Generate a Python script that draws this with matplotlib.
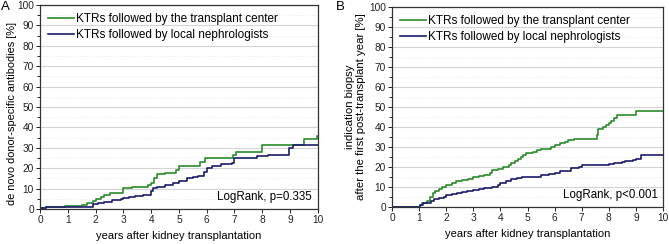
import matplotlib
matplotlib.use('Agg')
import matplotlib.pyplot as plt
from matplotlib.ticker import MultipleLocator

plt.rcParams['font.family'] = ['Liberation Sans', 'DejaVu Sans']

# panel A - de novo DSA
a_tc_x = [0, 0.2, 0.9, 1.5, 1.7, 1.9, 2.0, 2.2, 2.3, 2.5, 3.0, 3.3, 3.9, 4.0, 4.1, 4.2, 4.5, 4.9, 5.0,
          5.75, 5.95, 6.95, 7.05, 8.0, 9.5, 9.97, 10]
a_tc_y = [0.5, 1.0, 1.5, 2.0, 3.0, 4.0, 5.0, 6.0, 7.0, 8.0, 10.5, 11.0, 12.0, 13.0, 15.0, 17.0, 17.5, 19.0, 21.0,
          23.0, 25.0, 26.5, 28.0, 31.5, 34.5, 36.0, 36.0]
a_ln_x = [0, 0.2, 1.9, 2.1, 2.3, 2.6, 2.9, 3.0, 3.2, 3.4, 3.7, 4.0, 4.05, 4.2, 4.5, 4.8, 5.0, 5.3, 5.5,
          5.7, 5.9, 6.0, 6.2, 6.5, 6.9, 7.0, 7.8, 8.2, 8.95, 9.1, 10]
a_ln_y = [0.3, 0.8, 2.5, 3.0, 3.5, 4.5, 5.0, 5.5, 6.0, 6.5, 7.0, 9.0, 10.5, 11.0, 12.0, 13.0, 14.0, 15.0, 15.5,
          16.0, 18.0, 20.0, 21.0, 22.0, 22.5, 25.0, 26.0, 26.5, 30.0, 31.5, 31.5]

# panel B - indication biopsy after first year
b_tc_x = [0, 1.0, 1.05, 1.1, 1.3, 1.4, 1.5, 1.6, 1.75, 1.85, 2.0, 2.2, 2.35, 2.6, 2.8, 3.0, 3.2, 3.4, 3.6,
          3.7, 3.9, 4.1, 4.3, 4.4, 4.55, 4.65, 4.75, 4.85, 4.95, 5.2, 5.35, 5.5, 5.85, 6.0, 6.2, 6.4, 6.5,
          6.7, 7.55, 7.6, 7.8, 7.9, 8.0, 8.1, 8.2, 8.3, 9.0, 10]
b_tc_y = [0, 0, 1, 2, 3, 5, 7, 8, 9, 10, 11, 12, 13, 13.5, 14, 15, 15.5, 16, 17,
          18.5, 19, 20, 21, 22, 23, 24, 25, 26, 27, 27.5, 28.5, 29, 30, 31, 32, 32.5, 33.5,
          34, 36, 39, 40, 41, 42, 43, 44.5, 46, 48, 48]
b_ln_x = [0, 1.0, 1.05, 1.15, 1.45, 1.55, 1.75, 1.9, 2.0, 2.2, 2.4, 2.6, 2.75, 3.0, 3.2, 3.4, 3.7, 3.9,
          4.0, 4.2, 4.4, 4.6, 4.8, 5.5, 5.8, 6.0, 6.2, 6.6, 6.9, 7.0, 8.0, 8.2, 8.5, 8.6, 8.9, 9.0, 9.2, 10]
b_ln_y = [0, 0, 1, 2, 3, 4, 4.5, 5, 6, 6.5, 7, 7.5, 8, 8.5, 9, 9.5, 10, 11,
          12, 13, 14, 14.5, 15, 16, 16.5, 17, 18, 19.5, 20, 21, 21.5, 22, 22.5, 23, 23.5, 24, 26, 26]

lbl_tc = 'KTRs followed by the transplant center'
lbl_ln = 'KTRs followed by local nephrologists'
green = '#2a8c2a'
navy = '#1b1b6b'

fig = plt.figure(figsize=(6.69, 2.44), dpi=100)
axA = fig.add_axes([0.060, 0.143, 0.415, 0.837])
axB = fig.add_axes([0.586, 0.152, 0.405, 0.819])


def style(ax, ylabel, ptext, ysize):
    ax.set_xlim(0, 10)
    ax.set_ylim(0, 100)
    ax.xaxis.set_major_locator(MultipleLocator(1))
    ax.yaxis.set_major_locator(MultipleLocator(10))
    ax.yaxis.set_minor_locator(MultipleLocator(5))
    ax.grid(which='major', axis='y', color='#d4d4d4', lw=0.8)
    ax.grid(which='minor', axis='y', color='#e4e4e4', lw=0.6, ls=':')
    ax.set_axisbelow(True)
    ax.tick_params(labelsize=7.3, length=3, width=0.7, pad=1.5, colors='#222222')
    ax.tick_params(which='minor', length=2, width=0.6)
    for s in ax.spines.values():
        s.set_color('#333333')
        s.set_linewidth(0.9)
    ax.set_xlabel('years after kidney transplantation', fontsize=8, labelpad=4)
    ax.set_ylabel(ylabel, fontsize=ysize, labelpad=2, linespacing=1.1)
    ax.text(0.98, 0.03, ptext, transform=ax.transAxes, ha='right', va='bottom', fontsize=8.3)
    ax.legend(loc='upper left', fontsize=8.5, frameon=False, handlelength=2.2,
              handletextpad=0.15, labelspacing=0.3, borderaxespad=0.3,
              bbox_to_anchor=(0.0, 1.0))


axA.step(a_tc_x, a_tc_y, where='post', color=green, lw=1.2, label=lbl_tc)
axA.step(a_ln_x, a_ln_y, where='post', color=navy, lw=1.2, label=lbl_ln)
style(axA, 'de novo donor-specific antibodies [%]', 'LogRank, p=0.335', 7.9)
axA.yaxis.set_label_coords(-0.085, 0.47)

axB.step(b_tc_x, b_tc_y, where='post', color=green, lw=1.2, label=lbl_tc)
axB.step(b_ln_x, b_ln_y, where='post', color=navy, lw=1.2, label=lbl_ln)
style(axB, 'indication biopsy\nafter the first post-transplant year [%]', 'LogRank, p<0.001', 8.2)

fig.text(0.002, 0.995, 'A', fontsize=9.5, va='top', ha='left')
fig.text(0.502, 0.995, 'B', fontsize=9.5, va='top', ha='left')

fig.savefig('out.png', dpi=100)
